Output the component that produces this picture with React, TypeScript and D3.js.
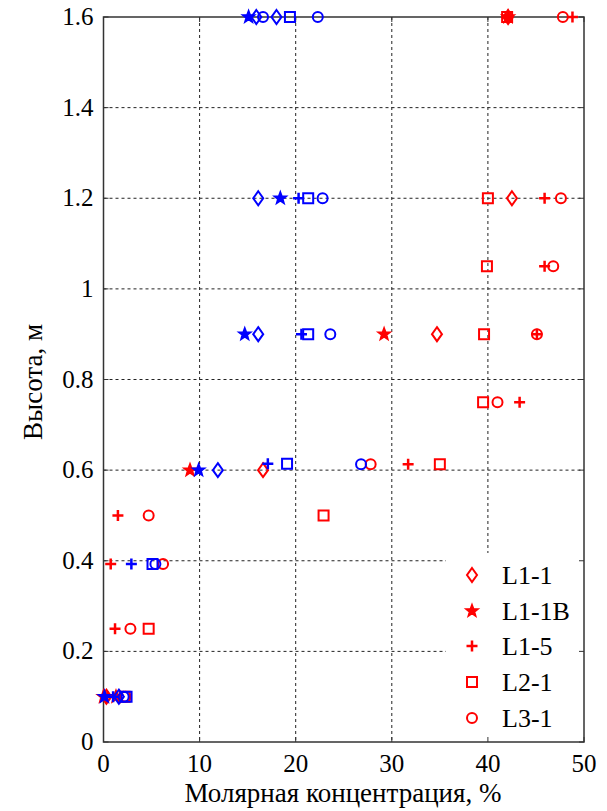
import React from "react";
import * as d3 from "d3";

type Pt = [number, number];

const seriesNames = ["L1-1", "L1-1B", "L1-5", "L2-1", "L3-1"];
const markerTypes = ["diamond", "star", "plus", "square", "circle"];

// red series (values: concentration %, height m)
const redL11: Pt[] = [[42.1, 1.6], [42.5, 1.2], [34.7, 0.9], [16.6, 0.6], [0.3, 0.1]];
const redL11B: Pt[] = [[42.1, 1.6], [29.2, 0.9], [9.0, 0.6], [0.0, 0.1], [1.3, 0.1]];
const redL15: Pt[] = [[48.8, 1.6], [45.9, 1.2], [45.9, 1.05], [45.1, 0.9], [43.3, 0.75], [31.7, 0.613], [1.5, 0.5], [0.75, 0.393], [1.2, 0.25], [0.4, 0.1]];
const redL21: Pt[] = [[42.0, 1.6], [40.0, 1.2], [39.9, 1.05], [39.6, 0.9], [39.5, 0.75], [35.0, 0.613], [22.9, 0.5], [4.7, 0.25], [2.2, 0.1]];
const redL31: Pt[] = [[47.8, 1.6], [47.6, 1.2], [46.8, 1.05], [45.1, 0.9], [41.0, 0.75], [27.8, 0.613], [4.7, 0.5], [6.2, 0.393], [2.8, 0.25], [2.3, 0.1]];

// blue series
const blueL11: Pt[] = [[15.9, 1.6], [18.0, 1.6], [16.1, 1.2], [16.1, 0.9], [11.9, 0.6], [1.6, 0.1]];
const blueL11B: Pt[] = [[15.1, 1.6], [18.4, 1.2], [14.7, 0.9], [9.9, 0.6], [0.1, 0.1]];
const blueL15: Pt[] = [[20.3, 1.2], [20.6, 0.9], [17.1, 0.614], [2.9, 0.393], [1.0, 0.1]];
const blueL21: Pt[] = [[19.4, 1.6], [21.3, 1.2], [21.3, 0.9], [19.1, 0.614], [5.1, 0.393], [2.4, 0.1]];
const blueL31: Pt[] = [[16.6, 1.6], [22.3, 1.6], [22.8, 1.2], [23.6, 0.9], [26.8, 0.613], [5.4, 0.393], [2.1, 0.1]];

const xTicks = [0, 10, 20, 30, 40, 50];
const yTicks = [0, 0.2, 0.4, 0.6, 0.8, 1, 1.2, 1.4, 1.6];

const RED = "#ff0000";
const BLUE = "#0000ff";

function markerPath(type: string): string {
  switch (type) {
    case "diamond":
      return "M0,-7L5,0L0,7L-5,0Z";
    case "square":
      return "M-5,-5H5V5H-5Z";
    case "plus":
      return "M-5.5,0H5.5M0,-5.5V5.5";
    case "circle": {
      const p = d3.path();
      p.arc(0, 0, 5, 0, Math.PI * 2);
      return p.toString();
    }
    case "star": {
      const pts: string[] = [];
      for (let i = 0; i < 10; i++) {
        const r = i % 2 === 0 ? 6.5 : 2.7;
        const a = -Math.PI / 2 + (i * Math.PI) / 5;
        pts.push(`${(r * Math.cos(a)).toFixed(2)},${(r * Math.sin(a)).toFixed(2)}`);
      }
      return "M" + pts.join("L") + "Z";
    }
  }
  return "";
}

export default function App() {
  const W = 607;
  const H = 811;
  const left = 103.5, right = 584, top = 17, bottom = 742;
  const x = d3.scaleLinear().domain([0, 50]).range([left, right]);
  const y = d3.scaleLinear().domain([0, 1.6]).range([bottom, top]);
  const font = '"Liberation Serif", "DejaVu Serif", "Times New Roman", Times, serif';
  const axisColor = "#333";
  const tStyle: React.CSSProperties = { fontFamily: font };

  const redSets = [redL11, redL11B, redL15, redL21, redL31];
  const blueSets = [blueL11, blueL11B, blueL15, blueL21, blueL31];

  const legend = { x0: 446, y0: 553, x1: right, y1: bottom };
  const legendRows = [575, 611, 646, 682, 718];

  const drawMarker = (type: string, color: string, tx: number, ty: number, key: string) => (
    <path
      key={key}
      d={markerPath(type)}
      transform={`translate(${tx},${ty})`}
      fill={type === "star" ? color : "none"}
      stroke={color}
      strokeWidth={type === "plus" ? 2.5 : type === "star" ? 1.5 : 2}
      strokeLinejoin="miter"
    />
  );

  const drawSet = (data: Pt[], type: string, color: string, key: string) =>
    data.map((d, i) => drawMarker(type, color, x(d[0]), y(d[1]), key + i));

  return (
    <svg width={W} height={H} style={{ position: "absolute", left: 0, top: 0, background: "#fff" }}>
      <rect x={0} y={0} width={W} height={H} fill="#fff" />
      {/* grid */}
      {xTicks.filter((t) => t > 0 && t < 50).map((t) => (
        <line key={"gx" + t} x1={x(t)} x2={x(t)} y1={top} y2={bottom} stroke="#222" strokeWidth={1} strokeDasharray="3,3" />
      ))}
      {yTicks.filter((t) => t > 0 && t < 1.6).map((t) => (
        <line key={"gy" + t} x1={left} x2={right} y1={y(t)} y2={y(t)} stroke="#222" strokeWidth={1} strokeDasharray="3,3" />
      ))}
      {/* legend background */}
      <rect x={legend.x0} y={legend.y0} width={legend.x1 - legend.x0} height={legend.y1 - legend.y0} fill="#fff" />
      {/* box */}
      <rect x={left} y={top} width={right - left} height={bottom - top} fill="none" stroke={axisColor} strokeWidth={1.5} />
      {/* ticks */}
      {xTicks.map((t) => (
        <g key={"tx" + t}>
          <line x1={x(t)} x2={x(t)} y1={bottom} y2={bottom - 5} stroke={axisColor} strokeWidth={1} />
          <line x1={x(t)} x2={x(t)} y1={top} y2={top + 5} stroke={axisColor} strokeWidth={1} />
          <text x={x(t)} y={bottom + 30} textAnchor="middle" style={tStyle} fontSize={25} fill="#000">
            {t}
          </text>
        </g>
      ))}
      {yTicks.map((t) => (
        <g key={"ty" + t}>
          <line x1={left} x2={left + 5} y1={y(t)} y2={y(t)} stroke={axisColor} strokeWidth={1} />
          <line x1={right} x2={right - 5} y1={y(t)} y2={y(t)} stroke={axisColor} strokeWidth={1} />
          <text x={left - 10} y={y(t) + 8} textAnchor="end" style={tStyle} fontSize={25} fill="#000">
            {d3.format("")(t)}
          </text>
        </g>
      ))}
      {/* data */}
      {redSets.map((s, i) => drawSet(s, markerTypes[i], RED, "r" + i))}
      {blueSets.map((s, i) => drawSet(s, markerTypes[i], BLUE, "b" + i))}
      {/* legend */}
      {seriesNames.map((n, i) => (
        <g key={"lg" + n}>
          {drawMarker(markerTypes[i], RED, 472, legendRows[i], "lm" + i)}
          <text x={502} y={legendRows[i] + 9} style={tStyle} fontSize={26} fill="#000">
            {n}
          </text>
        </g>
      ))}
      {/* axis labels */}
      <text x={343} y={802} textAnchor="middle" style={tStyle} fontSize={27} fill="#000">
        Молярная концентрация, %
      </text>
      <text transform={`translate(42,382) rotate(-90)`} textAnchor="middle" style={tStyle} fontSize={27} fill="#000">
        Высота, м
      </text>
    </svg>
  );
}
